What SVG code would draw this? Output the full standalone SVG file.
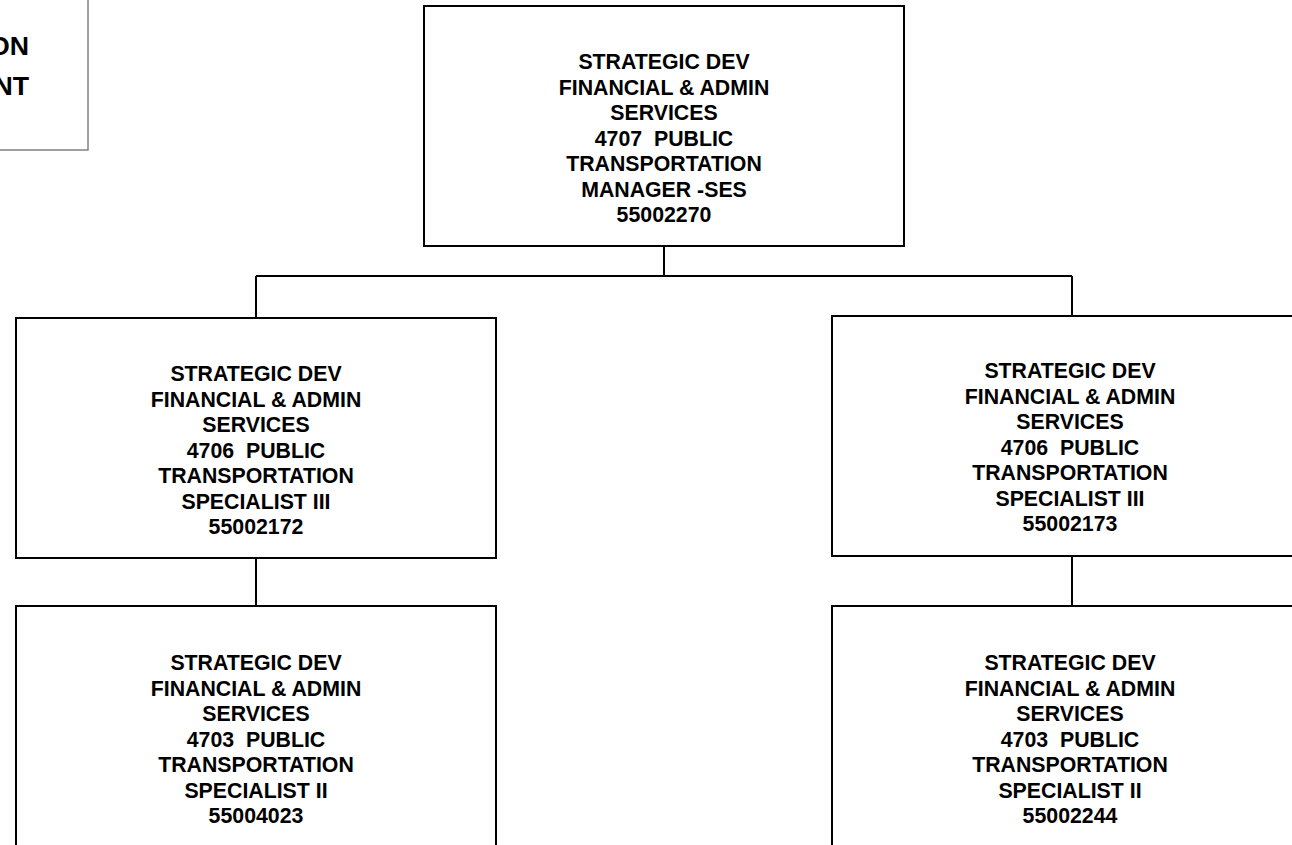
<svg xmlns="http://www.w3.org/2000/svg" width="1292" height="845" viewBox="0 0 1292 845">
  <style>
    .box { fill: #ffffff; stroke: #000000; stroke-width: 2; }
    .edge { fill: none; stroke: #000000; stroke-width: 2; }
    .lbl { font-family: "Liberation Sans", Arial, sans-serif; font-weight: bold; font-size: 21.3px; fill: #000000; text-anchor: middle; }
    .hdr { font-family: "Liberation Sans", Arial, sans-serif; font-weight: bold; font-size: 26.7px; fill: #000000; text-anchor: end; }
  </style>
  <rect x="0" y="0" width="1292" height="845" fill="#ffffff"/>

  <!-- title block, partly off the page -->
  <g id="title">
    <rect x="-40" y="-10" width="128" height="160" fill="#ffffff" stroke="#808080" stroke-width="1.5"/>
    <text class="hdr" x="29" y="55">ON</text>
    <text class="hdr" x="29" y="95">NT</text>
  </g>

  <!-- reporting lines -->
  <g id="connectors">
    <path class="edge" d="M664 246 V276"/>
    <path class="edge" d="M256 276 H1072"/>
    <path class="edge" d="M256 276 V318"/>
    <path class="edge" d="M1072 276 V316"/>
    <path class="edge" d="M256 558 V606"/>
    <path class="edge" d="M1072 556 V606"/>
  </g>

  <g id="node-55002270">
    <rect class="box" x="424" y="6" width="480" height="240"/>
    <text class="lbl"><tspan x="664" y="69">STRATEGIC DEV</tspan><tspan x="664" y="94.5">FINANCIAL &amp; ADMIN</tspan><tspan x="664" y="120">SERVICES</tspan><tspan x="664" y="145.5">4707&#160; PUBLIC</tspan><tspan x="664" y="171">TRANSPORTATION</tspan><tspan x="664" y="196.5">MANAGER -SES</tspan><tspan x="664" y="222">55002270</tspan></text>
  </g>

  <g id="node-55002172">
    <rect class="box" x="16" y="318" width="480" height="240"/>
    <text class="lbl"><tspan x="256" y="381">STRATEGIC DEV</tspan><tspan x="256" y="406.5">FINANCIAL &amp; ADMIN</tspan><tspan x="256" y="432">SERVICES</tspan><tspan x="256" y="457.5">4706&#160; PUBLIC</tspan><tspan x="256" y="483">TRANSPORTATION</tspan><tspan x="256" y="508.5">SPECIALIST III</tspan><tspan x="256" y="534">55002172</tspan></text>
  </g>

  <g id="node-55002173">
    <rect class="box" x="832" y="316" width="480" height="240"/>
    <text class="lbl"><tspan x="1070" y="378">STRATEGIC DEV</tspan><tspan x="1070" y="403.5">FINANCIAL &amp; ADMIN</tspan><tspan x="1070" y="429">SERVICES</tspan><tspan x="1070" y="454.5">4706&#160; PUBLIC</tspan><tspan x="1070" y="480">TRANSPORTATION</tspan><tspan x="1070" y="505.5">SPECIALIST III</tspan><tspan x="1070" y="531">55002173</tspan></text>
  </g>

  <g id="node-55004023">
    <rect class="box" x="16" y="606" width="480" height="260"/>
    <text class="lbl"><tspan x="256" y="670">STRATEGIC DEV</tspan><tspan x="256" y="695.5">FINANCIAL &amp; ADMIN</tspan><tspan x="256" y="721">SERVICES</tspan><tspan x="256" y="746.5">4703&#160; PUBLIC</tspan><tspan x="256" y="772">TRANSPORTATION</tspan><tspan x="256" y="797.5">SPECIALIST II</tspan><tspan x="256" y="823">55004023</tspan></text>
  </g>

  <g id="node-55002244">
    <rect class="box" x="832" y="606" width="480" height="260"/>
    <text class="lbl"><tspan x="1070" y="670">STRATEGIC DEV</tspan><tspan x="1070" y="695.5">FINANCIAL &amp; ADMIN</tspan><tspan x="1070" y="721">SERVICES</tspan><tspan x="1070" y="746.5">4703&#160; PUBLIC</tspan><tspan x="1070" y="772">TRANSPORTATION</tspan><tspan x="1070" y="797.5">SPECIALIST II</tspan><tspan x="1070" y="823">55002244</tspan></text>
  </g>
</svg>
